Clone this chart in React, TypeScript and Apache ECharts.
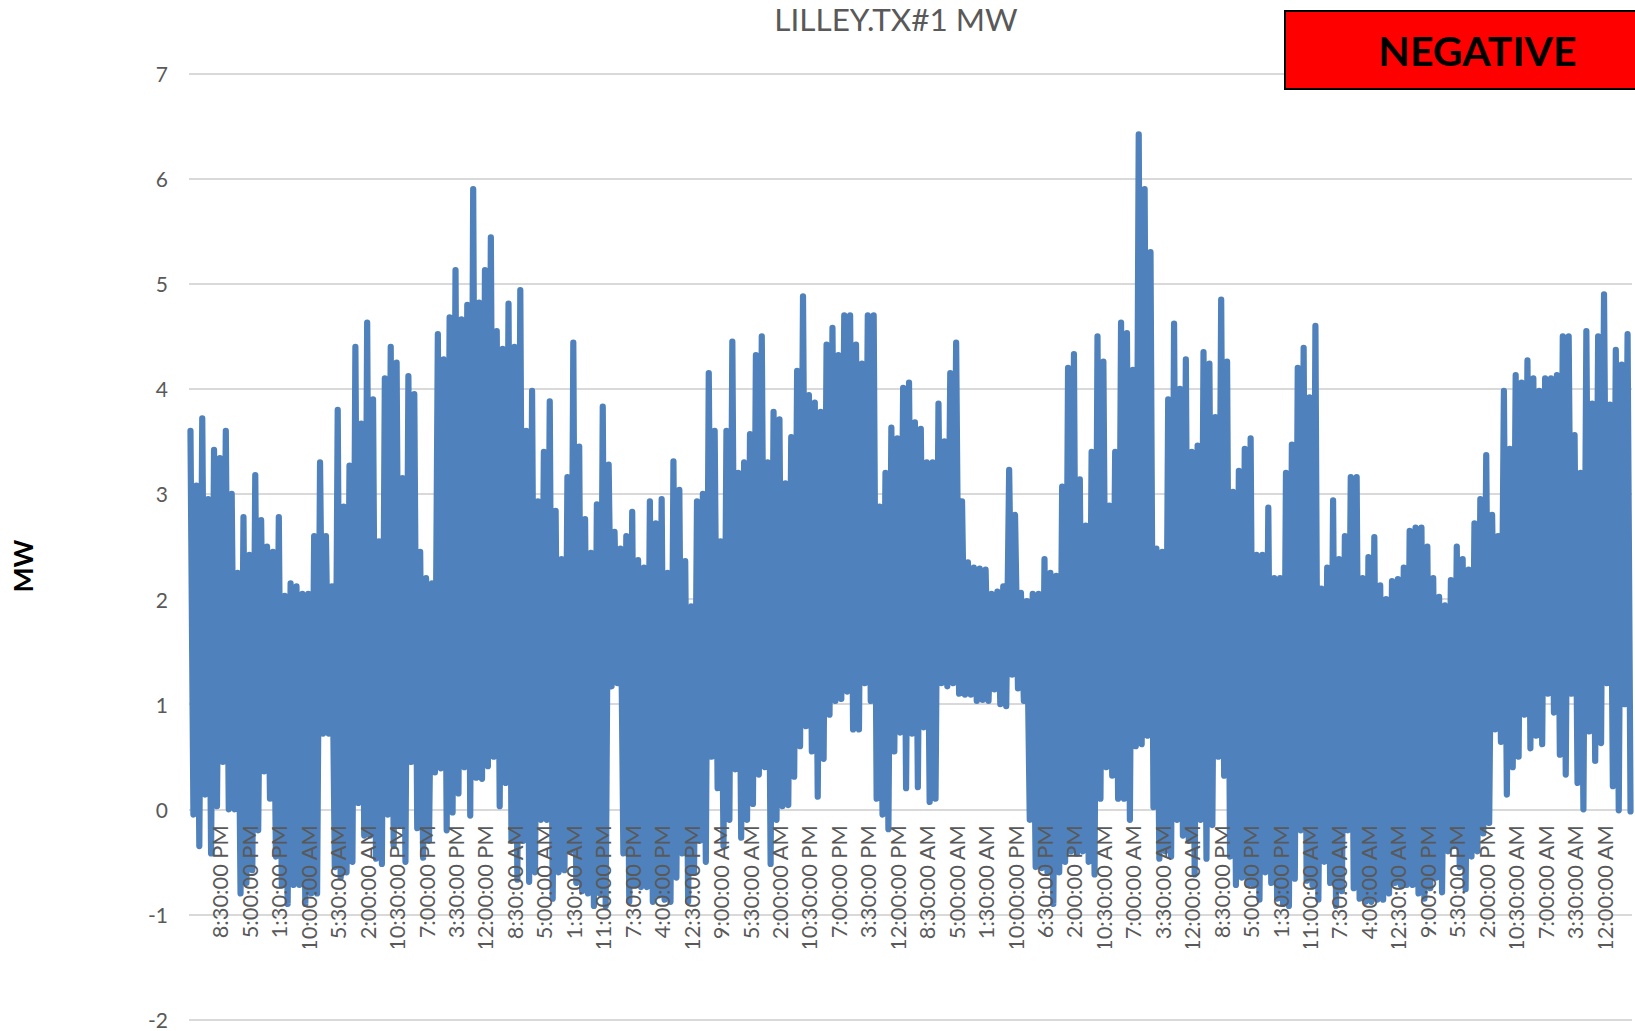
import React, { useEffect, useRef } from "react";
import * as echarts from "echarts";

const tickLabels = [
  "8:30:00 PM","5:00:00 PM","1:30:00 PM","10:00:00 AM","5:30:00 AM","2:00:00 AM","10:30:00 PM","7:00:00 PM",
  "3:30:00 PM","12:00:00 PM","8:30:00 AM","5:00:00 AM","1:30:00 AM","11:00:00 PM","7:30:00 PM","4:00:00 PM",
  "12:30:00 PM","9:00:00 AM","5:30:00 AM","2:00:00 AM","10:30:00 PM","7:00:00 PM","3:30:00 PM","12:00:00 PM",
  "8:30:00 AM","5:00:00 AM","1:30:00 AM","10:00:00 PM","6:30:00 PM","2:00:00 PM","10:30:00 AM","7:00:00 AM",
  "3:30:00 AM","12:00:00 AM","8:30:00 PM","5:00:00 PM","1:30:00 PM","11:00:00 AM","7:30:00 AM","4:00:00 AM",
  "12:30:00 AM","9:00:00 PM","5:30:00 PM","2:00:00 PM","10:30:00 AM","7:00:00 AM","3:30:00 AM","12:00:00 AM",
];

const highs1 = [3.60,3.08,3.72,2.95,3.42,3.34,3.60,3.00,2.25,2.78,2.42,3.18,2.75,2.50,2.45,2.78,2.03,2.15,2.12,2.05,2.05,2.60,3.30,2.60,2.12,3.80,2.88,3.27,4.40,3.67,4.63,3.90,2.55,4.10,4.40,4.25];
const lows1 = [-0.05,-0.35,0.14,-0.42,0.03,0.45,0.00,0.00,-0.80,-0.70,-0.58,-0.20,0.36,0.10,-0.45,-0.72,-0.90,-0.72,-0.72,-0.90,-0.80,-0.80,0.72,0.72,-0.55,-0.65,-0.60,-0.50,0.06,-0.25,-0.25,-0.47,-0.52,-0.05,-0.35,-0.15];
const highs2 = [3.15,4.12,3.95,2.45,2.20,2.15,4.52,4.28,4.68,5.13,4.66,4.80,5.90,4.82,5.13,5.44,4.55,4.38,4.81,4.40,4.94,3.60,3.98,2.93,3.40,3.88,2.84,2.38,3.16,4.44,3.45,2.76,2.44,2.90];
const lows2 = [-0.50,0.45,-0.18,-0.46,-0.30,0.35,0.39,-0.20,-0.03,0.15,0.40,-0.06,0.30,0.29,0.41,0.50,0.03,0.25,-0.30,-0.67,-0.30,-0.69,-0.60,-0.10,-0.10,-0.85,-0.60,-0.58,-0.40,-0.70,-0.78,-0.80,-0.92,-0.80];
const highs3 = [3.83,3.28,2.64,2.48,2.60,2.83,2.37,2.30,2.93,2.72,2.95,2.25,3.31,3.04,2.36,1.93,2.93,3.00,4.15,3.60,2.55,3.60,4.45,3.20,3.30,3.57,4.32,4.50,3.30,3.78,3.71,3.10,3.54,4.17,4.88];
const lows3 = [-0.92,1.17,1.20,-0.42,-0.88,-0.72,-0.74,-0.74,-0.88,-0.82,-0.86,-0.88,-0.65,-0.42,-0.88,-0.60,-0.30,-0.50,0.50,0.20,-0.35,-0.10,0.38,-0.27,-0.10,0.05,0.33,0.40,-0.52,-0.10,0.03,0.04,0.31,0.60,0.79];
const highs4 = [3.94,3.87,3.78,4.42,4.58,4.32,4.70,4.70,4.42,4.24,4.70,4.70,2.88,3.20,3.63,3.53,4.01,4.06,3.68,3.62,3.30,3.30,3.86,3.50,4.15,4.44,2.93,2.35,2.30,2.29,2.28,2.05,2.07,2.12,3.23];
const lows4 = [0.55,0.12,0.48,0.90,1.03,1.05,1.12,0.76,0.76,1.20,1.03,0.10,-0.05,-0.19,0.55,0.73,0.20,0.72,0.21,0.78,0.07,0.10,1.20,1.17,1.20,1.10,1.09,1.09,1.03,1.04,1.03,1.14,1.00,0.98,1.28];
const highs5 = [2.80,2.06,1.98,2.05,2.05,2.38,2.25,2.22,3.07,4.20,4.33,3.14,2.70,3.40,4.50,4.26,2.89,3.40,4.63,4.53,4.18,6.42,5.90,5.30,2.48,2.45,3.90,4.62,4.00,4.28,3.40,3.46,4.35,4.24,3.73];
const lows5 = [1.15,1.03,-0.10,-0.55,-0.56,-0.60,-0.90,-0.60,-0.50,-0.40,-0.42,-0.40,-0.50,-0.62,0.10,0.40,0.32,0.10,0.10,-0.10,0.60,0.62,0.70,0.02,-0.47,-0.40,-0.45,-0.10,-0.25,-0.30,-0.62,-0.10,-0.47,-0.15,0.50];
const highs6 = [4.85,4.26,3.02,3.22,3.43,3.53,2.42,2.42,2.87,2.20,2.20,3.20,3.47,4.20,4.39,3.92,4.60,2.10,2.30,2.94,2.38,2.60,3.16,3.16,2.20,2.40,2.59,2.13,2.00,2.17,2.19,2.30,2.65,2.68,2.68];
const lows6 = [0.32,-0.45,-0.72,-0.65,-0.72,-0.72,-0.86,-0.60,-0.70,-0.85,-0.90,-0.92,-0.66,-0.20,-0.68,-0.72,-0.86,-0.50,-0.70,-0.92,-0.78,-0.20,-0.75,-0.85,-0.88,-0.88,-0.86,-0.86,-0.80,-0.70,-0.72,-0.72,-0.72,-0.80,-0.85];
const highs7 = [2.50,2.20,2.02,1.94,2.18,2.50,2.38,2.28,2.72,2.95,3.37,2.80,2.60,3.98,3.43,4.13,4.06,4.27,4.10,3.98,4.10,4.10,4.13,4.50,4.50,3.56,3.20,4.55,3.86,4.50,4.90,3.85,4.37,4.23,4.52];
const lows7 = [-0.75,-0.65,-0.79,-0.40,-0.35,-0.55,-0.76,-0.45,-0.40,-0.23,-0.13,0.76,0.64,0.14,0.40,0.50,0.90,0.58,0.70,0.62,1.10,0.92,0.52,0.33,1.10,0.25,0.00,0.74,0.46,0.63,1.20,0.22,-0.01,1.00,-0.02];

const highs = [...highs1, ...highs2, ...highs3, ...highs4, ...highs5, ...highs6, ...highs7];
const lows = [...lows1, ...lows2, ...lows3, ...lows4, ...lows5, ...lows6, ...lows7];
const POINTS_PER_LABEL = 10;

const FONT = "Lato";
const GREY = "#595959";

export default function App() {
  const ref = useRef<HTMLDivElement>(null);
  useEffect(() => {
    const chart = echarts.init(ref.current!, undefined, { renderer: "svg" });
    const values: number[] = [];
    highs.forEach((h, i) => values.push(h, lows[i]));
    const categories = values.map((_, i) => {
      const k = i / POINTS_PER_LABEL;
      return Number.isInteger(k) && k >= 1 && k <= tickLabels.length ? tickLabels[k - 1] : "";
    });
    chart.setOption({
      animation: false,
      backgroundColor: "#ffffff",
      title: {
        text: "LILLEY.TX#1 MW",
        left: 891,
        top: -2,
        textAlign: "center",
        textStyle: { fontFamily: FONT, fontSize: 31.5, fontWeight: "normal", color: GREY },
      },
      grid: { left: 189, right: 3, top: 73.5, bottom: 11.5, containLabel: false, outerBoundsMode: "none" },
      xAxis: {
        type: "category",
        position: "bottom",
        offset: -210.2,
        data: categories,
        boundaryGap: true,
        z: 10,
        axisLine: { show: false, onZero: false },
        axisTick: { show: false },
        splitLine: { show: false },
        axisLabel: {
          interval: (_: number, v: string) => v !== "",
          rotate: 90,
          margin: 16,
          hideOverlap: false,
          fontFamily: FONT,
          fontSize: 21.8,
          color: GREY,
        },
      },
      yAxis: {
        type: "value",
        min: -2,
        max: 7,
        interval: 1,
        axisLine: { show: false },
        axisTick: { show: false },
        splitLine: { lineStyle: { color: "#d9d9d9", width: 2 } },
        axisLabel: { margin: 21, fontFamily: FONT, fontSize: 21, color: GREY },
      },
      series: [
        {
          type: "line",
          data: values,
          showSymbol: false,
          symbol: "none",
          clip: false,
          smooth: false,
          z: 2,
          lineStyle: { color: "#4f81bd", width: 6.2, cap: "round", join: "round" },
        },
      ],
      graphic: [
        { type: "rect", z: 100, shape: { x: 180, y: 948, width: 1455, height: 68 }, style: { fill: "#ffffff" } },
        {
          type: "rect",
          z: 100,
          shape: { x: 1285, y: 11, width: 360, height: 78 },
          style: { fill: "#ff0000", stroke: "#000000", lineWidth: 2 },
        },
        {
          type: "text",
          z: 101,
          x: 1477.5,
          y: 50,
          style: {
            text: "NEGATIVE",
            fontFamily: FONT,
            fontSize: 41,
            fontWeight: "bold",
            fill: "#000000",
            align: "center",
            verticalAlign: "middle",
          },
        },
        {
          type: "text",
          z: 101,
          x: 23,
          y: 566,
          rotation: Math.PI / 2,
          style: {
            text: "MW",
            fontFamily: FONT,
            fontSize: 26.5,
            fontWeight: "bold",
            fill: "#000000",
            align: "center",
            verticalAlign: "middle",
          },
        },
      ],
    });
    return () => chart.dispose();
  }, []);
  return <div ref={ref} style={{ position: "fixed", left: 0, top: 0, width: 1635, height: 1031 }} />;
}
